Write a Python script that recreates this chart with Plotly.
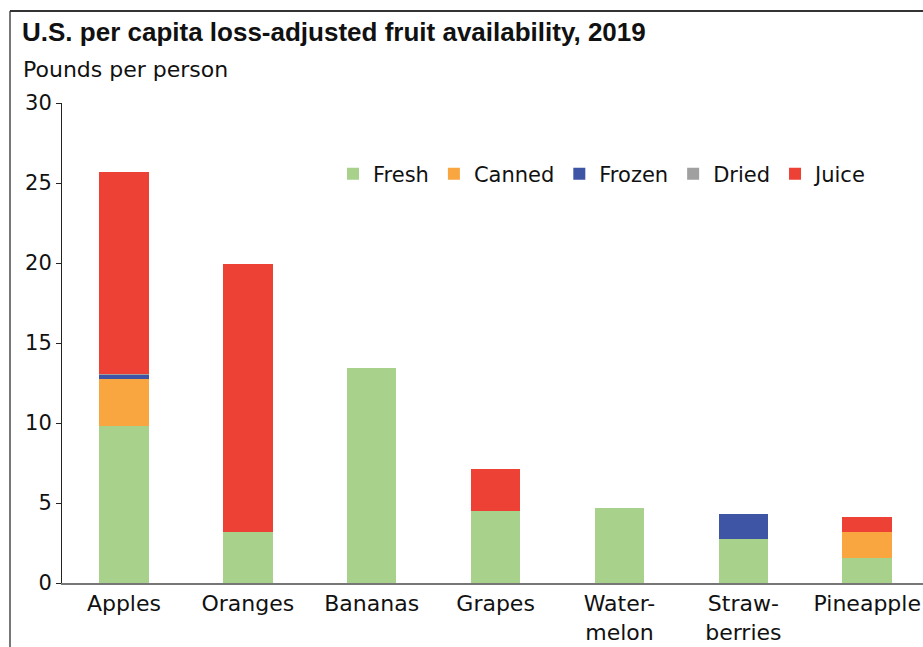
import plotly.graph_objects as go

categories = ["Apples", "Oranges", "Bananas", "Grapes", "Water-<br>melon", "Straw-<br>berries", "Pineapple"]
fresh = [9.8, 3.2, 13.45, 4.48, 4.67, 2.75, 1.54]
canned = [2.95, 0, 0, 0, 0, 0, 1.67]
frozen = [0.27, 0, 0, 0, 0, 1.54, 0]
dried = [0.07, 0, 0, 0, 0, 0, 0]
juice = [12.6, 16.74, 0, 2.62, 0, 0, 0.94]

series = [
    ("Fresh", fresh, "#A8D28C"),
    ("Canned", canned, "#F9A641"),
    ("Frozen", frozen, "#3E55A5"),
    ("Dried", dried, "#A0A0A0"),
    ("Juice", juice, "#EE4136"),
]

fig = go.Figure()
for name, vals, color in series:
    fig.add_trace(go.Bar(x=categories, y=vals, name=name, width=0.4,
                         marker=dict(color=color, line=dict(width=0))))

W, H = 923, 647
L, R, T, B = 62, 0, 103, 64
pw = W - L - R
ph = H - T - B

def px(x):
    return (x - L) / pw

def py(y):
    return (H - B - y) / ph

FONT = "DejaVu Sans"

fig.update_layout(
    width=W, height=H,
    margin=dict(l=L, r=R, t=T, b=B),
    barmode="stack",
    plot_bgcolor="white", paper_bgcolor="white",
    font=dict(family=FONT, size=21, color="#111111"),
    legend=dict(orientation="h", x=px(333), y=py(174), xanchor="left", yanchor="middle",
                font=dict(size=21), bgcolor="rgba(0,0,0,0)", traceorder="normal",
                itemwidth=30, tracegroupgap=0),
    xaxis=dict(range=[-0.5, 6.45], showline=True, linecolor="#777777", linewidth=2,
               ticks="", showgrid=False, tickfont=dict(size=22), fixedrange=True),
    yaxis=dict(range=[0, 30], tickvals=[0, 5, 10, 15, 20, 25, 30], showline=True,
               linecolor="#222222", linewidth=1, ticks="outside", ticklen=5,
               tickcolor="#222222", showgrid=False, zeroline=False,
               tickfont=dict(size=21), fixedrange=True),
    shapes=[
        dict(type="line", xref="paper", yref="paper", x0=px(10), x1=px(10), y0=py(11), y1=py(660),
             line=dict(color="#777777", width=2)),
        dict(type="line", xref="paper", yref="paper", x0=px(10), x1=px(940), y0=py(11), y1=py(11),
             line=dict(color="#333333", width=2)),
    ],
    annotations=[
        dict(text="<b>U.S. per capita loss-adjusted fruit availability, 2019</b>",
             xref="paper", yref="paper", x=px(20), y=py(32), xanchor="left", yanchor="middle",
             showarrow=False, font=dict(family="Liberation Sans", size=26, color="#111111")),
        dict(text="Pounds per person",
             xref="paper", yref="paper", x=px(21), y=py(70), xanchor="left", yanchor="middle",
             showarrow=False, font=dict(family=FONT, size=22, color="#111111")),
    ],
)

fig.write_html("out.html")
